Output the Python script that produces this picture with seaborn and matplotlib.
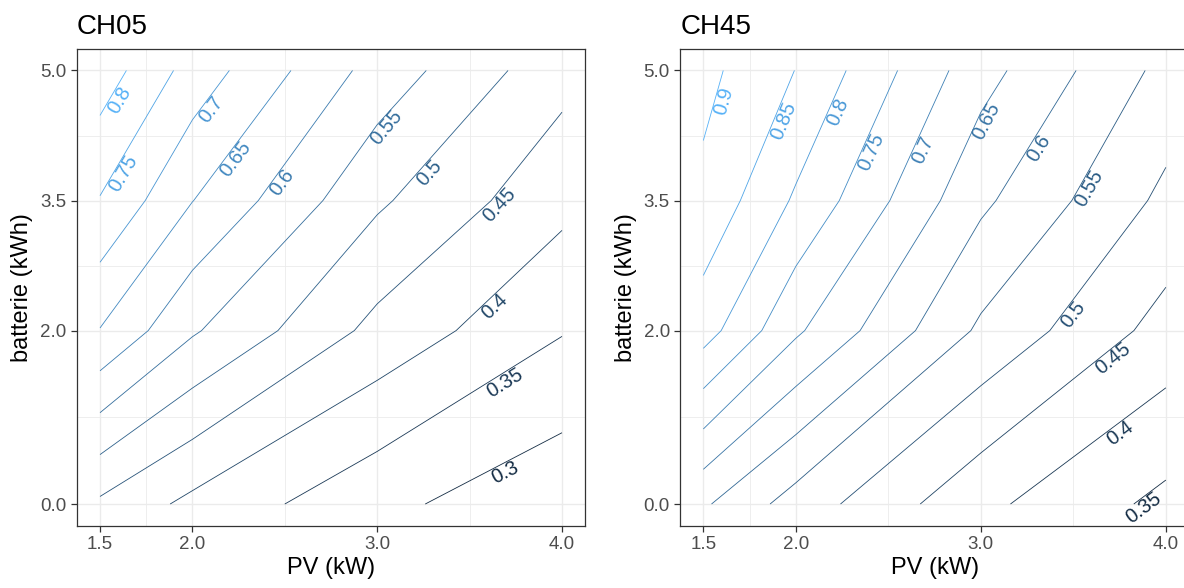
import matplotlib
matplotlib.use("Agg")
import matplotlib.pyplot as plt
import matplotlib.transforms as mtransforms
import numpy as np
import seaborn as sns
from matplotlib.colors import Normalize

# --- data: value grid, rows = batterie, cols = PV ---
pv = [1.5, 2.0, 3.0, 4.0]
batterie = [0.0, 2.0, 3.5, 5.0]

ch05 = [
    [0.441, 0.387, 0.313, 0.263],
    [0.648, 0.556, 0.435, 0.353],
    [0.747, 0.651, 0.508, 0.414],
    [0.828, 0.730, 0.580, 0.467],
]
ch45 = [
    [0.607, 0.528, 0.412, 0.337],
    [0.822, 0.708, 0.541, 0.431],
    [0.888, 0.793, 0.610, 0.488],
    [0.914, 0.849, 0.669, 0.535],
]

levels_ch05 = [0.3, 0.35, 0.4, 0.45, 0.5, 0.55, 0.6, 0.65, 0.7, 0.75, 0.8]
levels_ch45 = [0.35, 0.4, 0.45, 0.5, 0.55, 0.6, 0.65, 0.7, 0.75, 0.8, 0.85, 0.9]

# where the contour labels sit (approx points on each line)
labels_ch05 = [(1.554, 4.72), (1.597, 3.85), (2.063, 4.61), (2.198, 4.04),
               (2.447, 3.77), (3.015, 4.41), (3.26, 3.86), (3.63, 3.52),
               (3.60, 2.35), (3.67, 1.47), (3.67, 0.46)]
labels_ch45 = [(1.565, 4.67), (1.893, 4.46), (2.182, 4.57), (2.36, 4.11),
               (2.64, 4.13), (2.993, 4.46), (3.282, 4.15), (3.54, 3.69),
               (3.455, 2.26), (3.68, 1.77), (3.72, 0.91), (3.857, 0.03)]

x_ticks = [1.5, 2.0, 3.0, 4.0]
y_ticks = [0.0, 2.0, 3.5, 5.0]

sns.set_theme(style="white")
plt.rcParams["font.family"] = ["Liberation Sans", "DejaVu Sans"]

cmap = sns.blend_palette(["#132B43", "#56B1F7"], as_cmap=True)

W, H = 1184, 588
fig = plt.figure(figsize=(W / 100, H / 100), dpi=100)

# panel boxes in pixels: left, top, right, bottom
boxes = [(76.9, 48.8, 585.1, 525.7), (680.2, 48.8, 1189.0, 525.7)]
panels = [("CH05", ch05, levels_ch05, labels_ch05),
          ("CH45", ch45, levels_ch45, labels_ch45)]

X, Y = np.meshgrid(pv, batterie)

for (l, t, r, b), (title, z, levels, lab_pos) in zip(boxes, panels):
    ax = fig.add_axes([l / W, (H - b) / H, (r - l) / W, (b - t) / H])
    ax.set_xlim(1.375, 4.125)
    ax.set_ylim(-0.25, 5.25)
    ax.set_facecolor("white")

    ax.set_xticks(x_ticks)
    ax.set_xticklabels(["%.1f" % v for v in x_ticks])
    ax.set_yticks(y_ticks)
    ax.set_yticklabels(["%.1f" % v for v in y_ticks])
    ax.set_xticks([1.75, 2.5, 3.5], minor=True)
    ax.set_yticks([1.0, 2.75, 4.25], minor=True)
    ax.grid(which="major", color="#EBEBEB", linewidth=1.0)
    ax.grid(which="minor", color="#EBEBEB", linewidth=0.6)
    ax.set_axisbelow(True)
    ax.tick_params(which="major", length=4.5, width=0.9, color="#333333",
                   labelsize=13.5, labelcolor="#4D4D4D", pad=3, bottom=True, left=True)
    ax.tick_params(which="minor", length=0)
    for sp in ax.spines.values():
        sp.set_color("#333333")
        sp.set_linewidth(0.9)

    ax.set_xlabel("PV (kW)", fontsize=17, color="black", labelpad=3)
    ax.set_ylabel("batterie (kWh)", fontsize=17, color="black", labelpad=5)
    ax.set_title(title, loc="left", fontsize=20, pad=11, color="black")

    norm = Normalize(min(levels), max(levels))
    cs = ax.contour(X, Y, np.array(z), levels=levels, cmap=cmap, norm=norm,
                    linewidths=0.6)
    ax.clabel(cs, levels, inline=False, manual=lab_pos, fontsize=14.5,
              fmt=lambda v: f"{v:g}")
    # shift labels slightly below-right of their line
    d = 9
    for txt in cs.labelTexts:
        rot = np.deg2rad(txt.get_rotation())
        txt.set_transform(mtransforms.offset_copy(
            ax.transData, fig=fig, x=d * np.sin(rot), y=-d * np.cos(rot),
            units="dots"))

fig.savefig("out.png", dpi=100)
